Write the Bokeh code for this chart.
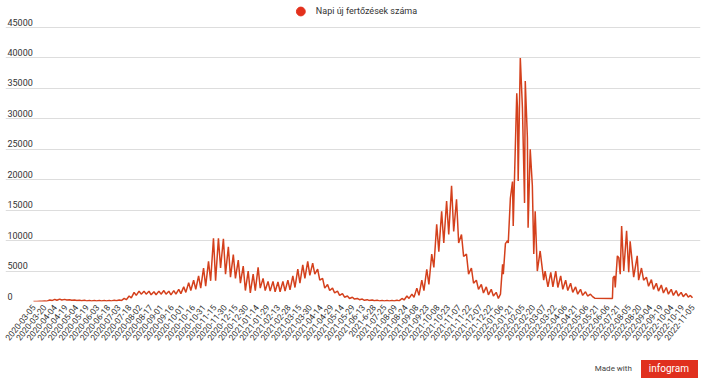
import math
from bokeh.plotting import figure
from bokeh.models import FixedTicker, Range1d, Legend, LegendItem, Div
from bokeh.layouts import column
from bokeh.core.properties import value
from bokeh.embed import file_html
from bokeh.resources import INLINE

series_name = "Napi új fertőzések száma"

# weekly high / low values (weeks 0..93, from 2020-03-05)
weekly_peaks = [20, 50, 100, 250, 350, 400, 350, 300, 250, 200,
                200, 150, 150, 150, 150, 150, 200, 250, 500, 900,
                1500, 1700, 1700, 1700, 1600, 1700, 1800, 1700, 1800, 2000,
                2400, 3100, 3500, 4200, 5500, 6600, 10400, 10400, 10300, 9000,
                7700, 6800, 5800, 5000, 4500, 5600, 3800, 3300, 3300, 3200,
                3300, 3500, 4200, 5300, 6000, 6600, 6300, 5300, 3800, 2800,
                2200, 1700, 1300, 900, 700, 500, 400, 300, 250, 200,
                150, 150, 150, 200, 500, 900, 1200, 2200, 3500, 5300,
                7800, 12700, 14800, 16500, 19000, 16800, 11000, 7800, 5500, 3500,
                2800, 2400, 2000, 1500]
weekly_troughs = [10, 30, 60, 150, 200, 250, 250, 200, 150, 120,
                  100, 80, 80, 80, 80, 100, 120, 150, 300, 600,
                  1000, 1200, 1200, 1100, 1100, 1200, 1200, 1100, 1200, 1300,
                  1500, 1800, 2000, 2200, 2500, 3400, 3400, 5500, 4500, 4000,
                  3800, 3000, 1800, 1400, 1800, 2200, 1800, 1700, 1600, 1600,
                  1700, 1900, 2300, 3000, 3800, 4300, 4500, 3500, 2200, 1800,
                  1400, 1000, 700, 500, 400, 300, 200, 150, 120, 100,
                  80, 80, 80, 100, 250, 500, 700, 1000, 1800, 2800,
                  5600, 8200, 9600, 11000, 11500, 9600, 7400, 4500, 3000, 2000,
                  1400, 1100, 900, 500]

# later part (row index in the data table, value)
tail_rows = [659, 662, 663, 666, 669, 670, 673, 676, 677, 682,
             683, 684, 687, 690, 693, 694, 697, 698, 701, 704,
             706, 708, 711, 715, 720, 722, 726, 730, 733, 737,
             740, 744, 747, 751, 754, 758, 761, 765, 768, 772,
             775, 779, 782, 786, 789, 792, 817, 818, 820, 821,
             824, 826, 828, 830, 833, 837, 840, 842, 847, 852,
             854, 858, 861, 865, 868, 872, 875, 879, 882, 886,
             889, 893, 896, 900, 903, 907, 910, 914, 917, 921,
             924, 927, 930]
tail_values = [1200, 6100, 4500, 9500, 10000, 9600, 17000, 19700, 12400, 34200,
               31800, 19800, 40000, 31800, 16200, 36200, 26900, 12100, 25000, 19000,
               7800, 14800, 5000, 8300, 3500, 5000, 2400, 4800, 2400, 5000,
               2300, 4200, 2000, 3500, 1800, 3000, 1500, 2400, 1200, 2000,
               1000, 1600, 900, 1200, 800, 550, 500, 3900, 4200, 2300,
               7500, 7200, 4500, 12400, 5000, 11600, 4800, 9900, 4000, 7500,
               3500, 5500, 3500, 4000, 2500, 3600, 2000, 3000, 1700, 2700,
               1400, 2300, 1200, 2000, 1000, 1800, 900, 1500, 800, 1300,
               700, 1000, 600]

tick_labels = [
    "2020-03-05", "2020-03-20", "2020-04-04", "2020-04-19", "2020-05-04", "2020-05-19",
    "2020-06-03", "2020-06-18", "2020-07-03", "2020-07-18", "2020-08-02", "2020-08-17",
    "2020-09-01", "2020-09-16", "2020-10-01", "2020-10-16", "2020-10-31", "2020-11-15",
    "2020-11-30", "2020-12-15", "2020-12-30", "2021-01-14", "2021-01-29", "2021-02-13",
    "2021-02-28", "2021-03-15", "2021-03-30", "2021-04-14", "2021-04-29", "2021-05-14",
    "2021-05-29", "2021-06-13", "2021-6-28", "2021-07-25", "2021-08-09", "2021-08-24",
    "2021-09-08", "2021-09-23", "2021-10-08", "2021-10-23", "2021-11-07", "2021-11-22",
    "2021-12-07", "2021-12-22", "2022-01-06", "2022-01-21", "2022-02-05", "2022-02-20",
    "2022-03-07", "2022-03-22", "2022-04-06", "2022-04-21", "2022-05-06", "2022-05-21",
    "2022-06-06", "2022-07-21", "2022-08-05", "2022-08-20", "2022-09-04", "2022-09-19",
    "2022-10-04", "2022-10-19", "2022-11-05"]

y_ticks = [0, 5000, 10000, 15000, 20000, 25000, 30000, 35000, 40000, 45000]

assert len(weekly_peaks) == len(weekly_troughs)
assert len(tail_rows) == len(tail_values)

rows = [0]
vals = [0]
for w, (pk, tr) in enumerate(zip(weekly_peaks, weekly_troughs)):
    rows += [7 * w + 2, 7 * w + 5]
    vals += [pk, tr]
rows += tail_rows
vals += tail_values

last_row = tail_rows[-1]
tick_pos = [15 * i for i in range(len(tick_labels) - 1)] + [last_row]

FONT = "Roboto"
x_start, x_end = -39.5, last_row + 11.3

p = figure(width=714, height=352, output_backend="svg", toolbar_location=None,
           x_range=Range1d(x_start, x_end), y_range=Range1d(0, 49442),
           min_border_left=5, min_border_right=14, min_border_top=0,
           min_border_bottom=51)
p.outline_line_color = None
p.background_fill_color = "white"
p.border_fill_color = "white"

p.xgrid.grid_line_color = None
p.yaxis.visible = False
p.ygrid.ticker = FixedTicker(ticks=y_ticks)
p.ygrid.grid_line_color = "#dddddd"
p.ygrid.grid_line_width = 1

p.line(rows, vals, line_color="#d4401c", line_width=1.5)

p.text(x=[x_start] * len(y_ticks), y=y_ticks, text=[str(t) for t in y_ticks],
       text_font=value(FONT), text_font_size="9px", text_color="#333333",
       text_align="left", text_baseline="bottom", x_offset=2, y_offset=-2)

xa = p.xaxis[0]
xa.ticker = FixedTicker(ticks=tick_pos)
xa.major_label_overrides = {pos: lab for pos, lab in zip(tick_pos, tick_labels)}
xa.major_label_orientation = 0.9
xa.major_label_text_font = FONT
xa.major_label_text_font_size = "8.5px"
xa.major_label_text_color = "#333333"
xa.axis_line_color = None
xa.major_tick_line_color = None
xa.minor_tick_line_color = None
xa.major_tick_out = 0
xa.major_label_standoff = 4

nan = float("nan")
dummy = p.scatter(x=[nan], y=[nan], size=10, fill_color="#e3301c", line_color="#e3301c")
legend = Legend(items=[LegendItem(label=series_name, renderers=[dummy])],
                location="top_center", orientation="horizontal",
                glyph_width=24, glyph_height=22, padding=0, margin=0,
                label_text_font=FONT, label_text_font_size="9px",
                label_text_color="#333333", border_line_color=None,
                background_fill_alpha=0, label_standoff=4)
p.add_layout(legend)

footer = Div(
    text=('<div style="display:flex;justify-content:flex-end;align-items:center;'
          'width:714px;height:33px;box-sizing:border-box;padding-right:16px;'
          'font-family:Roboto;">'
          '<span style="font-size:8px;color:#444444;margin-right:9px;">Made with</span>'
          '<span style="font-size:10px;color:white;background:#e0301e;'
          'padding:3px 9px 3px 8px;line-height:12px;">infogram</span></div>'),
    width=714, height=33, margin=0)

layout = column(p, footer, spacing=0, margin=0)
open("out.html", "w").write(file_html(layout, INLINE))
